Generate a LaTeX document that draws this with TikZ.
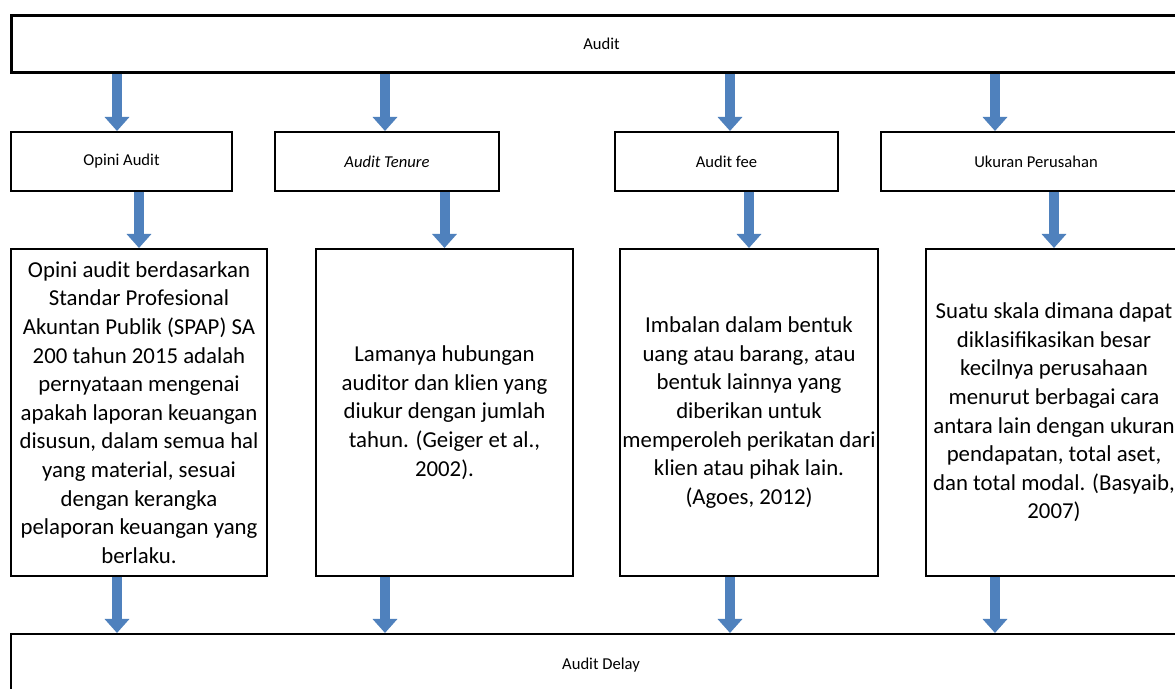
\documentclass[tikz,border=0pt]{standalone}
\usepackage{fontspec}
\setmainfont{Carlito}
\usetikzlibrary{arrows.meta}
\definecolor{flowblue}{RGB}{79,129,189}

\begin{document}
\begin{tikzpicture}[x=0.5pt, y=-0.5pt]
            \tikzstyle{headbox} = [draw=black, line width=1pt, anchor=north west, inner sep=1pt, font=\fontsize{8.3}{10}\selectfont]
            \tikzstyle{varbox} = [headbox, minimum height=29.5pt]
            \tikzstyle{defbox} = [draw=black, line width=1pt, anchor=north west, minimum height=163.5pt, align=center, inner sep=1pt, font=\fontsize{11.4}{14.3}\selectfont]
            \tikzstyle{flow} = [draw=flowblue, line width=5pt, -{Triangle[width=12pt, length=7pt]}]
            \useasboundingbox (0,0) rectangle (1175,689);
            \fill [white] (0,0) rectangle (1175,689);
            \clip (0,0) rectangle (1175,689);

            \node [headbox, line width=1.5pt, minimum width=590pt, minimum height=28.5pt] (A) at (10,14) {Audit};

            \node [varbox, minimum width=110.5pt] (V1) at (10,131) {Opini Audit};
            \node [varbox, minimum width=112pt] (V2) at (274,131) {\textit{Audit Tenure}};
            \node [varbox, minimum width=111.5pt] (V3) at (614,131) {Audit fee};
            \node [varbox, minimum width=155pt] (V4) at (880,131) {Ukuran Perusahan};

            \node [defbox, minimum width=128pt] (D1) at (10,248) {Opini audit berdasarkan\\Standar Profesional\\Akuntan Publik (SPAP) SA\\200 tahun 2015 adalah\\pernyataan mengenai\\apakah laporan keuangan\\disusun, dalam semua hal\\yang material, sesuai\\dengan kerangka\\pelaporan keuangan yang\\berlaku.};
            \node [defbox, minimum width=128.5pt] (D2) at (315,248) {Lamanya hubungan\\auditor dan klien yang\\diukur dengan jumlah\\tahun. (Geiger et al.,\\2002).};
            \node [defbox, minimum width=129pt] (D3) at (619,248) {Imbalan dalam bentuk\\uang atau barang, atau\\bentuk lainnya yang\\diberikan untuk\\memperoleh perikatan dari\\klien atau pihak lain.\\(Agoes, 2012)};
            \node [defbox, minimum width=128pt] (D4) at (925,248) {Suatu skala dimana dapat\\diklasifikasikan besar\\kecilnya perusahaan\\menurut berbagai cara\\antara lain dengan ukuran\\pendapatan, total aset,\\dan total modal. (Basyaib,\\2007)};
            % box runs on past the right edge
            \draw [line width=1pt] (D4.north east) -- ++(20,0) (D4.south east) -- ++(20,0);

            \node [headbox, minimum width=590pt, minimum height=31pt] (Y) at (10,633) {Audit Delay};

            % arrow columns
            \coordinate (c1) at (117,0);
            \coordinate (c2) at (385,0);
            \coordinate (c3) at (730,0);
            \coordinate (c4) at (995,0);

            \foreach \i in {1,...,4}
                \draw [flow] (A.south -| c\i) to (V\i.north -| c\i);
            \foreach \i in {1,...,4}
                \draw [flow] (V\i.south -| D\i.north) to (D\i.north);
            \foreach \i in {1,...,4}
                \draw [flow] (D\i.south -| c\i) to (Y.north -| c\i);
        \end{tikzpicture}
\end{document}
